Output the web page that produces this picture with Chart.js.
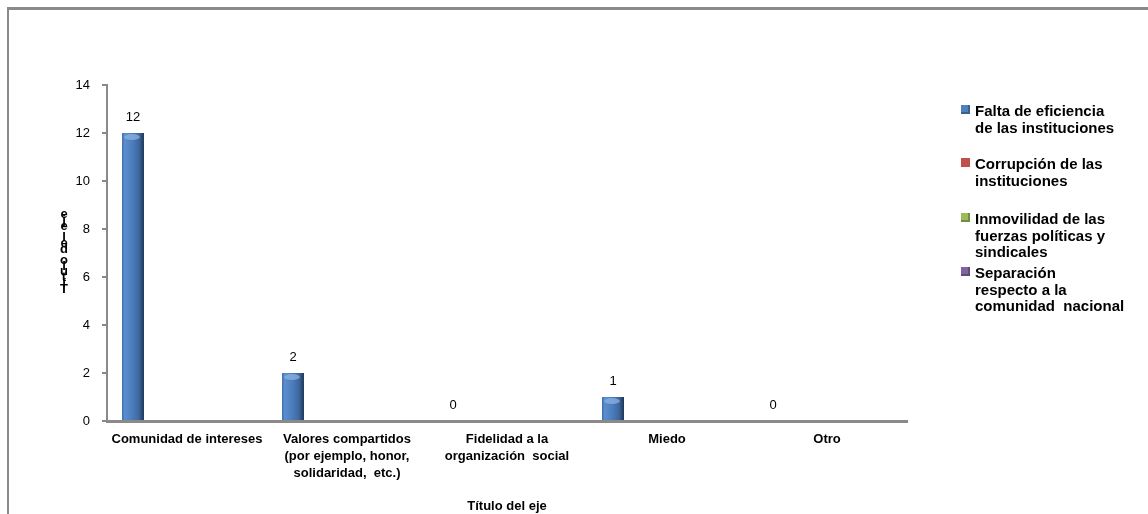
<!DOCTYPE html>
<html>
<head>
<meta charset="utf-8">
<script src="https://cdn.jsdelivr.net/npm/chart.js@4/dist/chart.umd.min.js"></script>
<style>
  html, body { margin: 0; padding: 0; background: #fff; }
  #wrap { position: relative; width: 1148px; height: 514px; overflow: hidden; background: #fff; }
  #c { position: absolute; left: 0; top: 0; }
  #frame { position: absolute; left: 7px; top: 7px; width: 1200px; height: 600px;
           border-top: 3px solid #8a8a8a; border-left: 2px solid #8a8a8a; pointer-events: none; }
  #legend { position: absolute; left: 0; top: 0; width: 1148px; height: 514px; pointer-events: none;
            font-family: "Liberation Sans", Arial, sans-serif; font-weight: bold; font-size: 15px; color: #000; }
  .item { position: absolute; left: 975px; line-height: 16.7px; white-space: nowrap; }
  .mk { position: absolute; left: 961px; width: 9px; height: 9px; }
</style>
</head>
<body>
<div id="wrap">
  <canvas id="c" width="1148" height="514"></canvas>
  <div id="frame"></div>
  <div id="legend"></div>
</div>
<script>
// ---- data ----
const categories = [
  ["Comunidad de intereses"],
  ["Valores compartidos", "(por ejemplo, honor,", "solidaridad,  etc.)"],
  ["Fidelidad a la", "organización  social"],
  ["Miedo"],
  ["Otro"]
];
const seriesNames = [
  ["Falta de eficiencia", "de las instituciones"],
  ["Corrupción de las", "instituciones"],
  ["Inmovilidad de las", "fuerzas políticas y", "sindicales"],
  ["Separación", "respecto a la", "comunidad  nacional"]
];
const faltaEficiencia = [12, 2, 0, 1, 0];
const corrupcion = [null, null, null, null, null];
const inmovilidad = [null, null, null, null, null];
const separacion = [null, null, null, null, null];
const yTicks = [0, 2, 4, 6, 8, 10, 12, 14];
const xAxisTitle = "Título del eje";
const yAxisTitle = "Título del eje";
const seriesColors = ["#4F81BD", "#C0504D", "#9BBB59", "#8064A2"];

const FONT = '"Liberation Sans", Arial, sans-serif';

function barFill(ctx) {
  const chart = ctx.chart;
  const base = seriesColors[ctx.datasetIndex];
  const meta = chart.getDatasetMeta(ctx.datasetIndex);
  const el = meta && meta.data ? meta.data[ctx.dataIndex] : null;
  if (!el || !isFinite(el.x) || !el.width) return base;
  const x0 = el.x - el.width / 2, x1 = el.x + el.width / 2;
  const g = chart.ctx.createLinearGradient(x0, 0, x1, 0);
  g.addColorStop(0, '#3f6ca6');
  g.addColorStop(0.12, '#5b8ecf');
  g.addColorStop(0.5, '#4a7bb9');
  g.addColorStop(0.78, '#3d669c');
  g.addColorStop(1, '#1d3656');
  return g;
}

const valueLabels = {
  id: 'valueLabels',
  afterDatasetsDraw(chart) {
    const ctx = chart.ctx;
    const meta = chart.getDatasetMeta(0);
    ctx.save();
    // cylinder-like cap highlight
    meta.data.forEach((el, i) => {
      const v = chart.data.datasets[0].data[i];
      if (v == null || v <= 0) return;
      ctx.fillStyle = 'rgba(140,178,225,0.75)';
      ctx.beginPath();
      ctx.ellipse(el.x - 1, el.y + 4, el.width * 0.36, 3, 0, 0, Math.PI * 2);
      ctx.fill();
    });
    ctx.font = '13px ' + FONT;
    ctx.fillStyle = '#000';
    ctx.textAlign = 'center';
    ctx.textBaseline = 'middle';
    meta.data.forEach((el, i) => {
      const v = chart.data.datasets[0].data[i];
      if (v == null) return;
      ctx.fillText(String(v), el.x, el.y - 15.5);
    });
    ctx.restore();
  },
  afterDraw(chart) {
    // stacked upright y-axis title (drawn bottom to top)
    const ctx = chart.ctx;
    ctx.save();
    ctx.font = 'bold 13px ' + FONT;
    ctx.fillStyle = '#000';
    ctx.textAlign = 'center';
    ctx.textBaseline = 'middle';
    const chars = Array.from(yAxisTitle);
    const bottom = 289, step = 5.7;
    chars.forEach((ch, i) => {
      if (ch === ' ') return;
      ctx.fillText(ch, 64, bottom - i * step);
    });
    ctx.restore();
  }
};

const datasets = [faltaEficiencia, corrupcion, inmovilidad, separacion].map((d, i) => ({
  label: seriesNames[i].join(' '),
  data: d,
  backgroundColor: i === 0 ? barFill : seriesColors[i],
  borderWidth: 0,
  categoryPercentage: 0.9,
  barPercentage: 0.61
}));

const chart = new Chart(document.getElementById('c'), {
  type: 'bar',
  data: { labels: categories, datasets },
  options: {
    responsive: false,
    animation: false,
    events: [],
    layout: { padding: { top: 85, left: 0, right: 241, bottom: 0 } },
    plugins: { legend: { display: false }, tooltip: { enabled: false } },
    scales: {
      x: {
        offset: true,
        grid: { display: false, drawTicks: false },
        border: { display: true, color: '#8a8a8a', width: 3 },
        ticks: {
          color: '#000', padding: 10, maxRotation: 0, autoSkip: false,
          font: { family: FONT, size: 13, weight: 'bold', lineHeight: 1.3 }
        },
        title: {
          display: true, text: xAxisTitle, color: '#000',
          font: { family: FONT, size: 13, weight: 'bold', lineHeight: 1.2 },
          padding: { top: 0, bottom: 0 }
        },
        afterFit(scale) { scale.height = 93; }
      },
      y: {
        min: 0, max: 14,
        afterBuildTicks(scale) { scale.ticks = yTicks.map(v => ({ value: v })); },
        grid: { drawOnChartArea: false, drawTicks: true, tickLength: 5, color: '#8a8a8a', lineWidth: 2 },
        border: { display: true, color: '#8a8a8a', width: 2 },
        ticks: { color: '#000', padding: 12, font: { family: FONT, size: 13 } },
        afterFit(scale) { scale.width = 107; }
      }
    }
  },
  plugins: [valueLabels]
});
chart.update('none');

// ---- legend ----
const legend = document.getElementById('legend');
const firstLineCenters = [111.7, 164.5, 219.3, 273.3];
chart.data.datasets.forEach((ds, i) => {
  const lines = seriesNames[i];
  const item = document.createElement('div');
  item.className = 'item';
  item.style.top = (firstLineCenters[i] - 8.35) + 'px';
  item.innerHTML = lines.map(l => l.replace(/ {2}/g, ' &nbsp;')).join('<br>');
  legend.appendChild(item);
  const mk = document.createElement('div');
  mk.className = 'mk';
  mk.style.top = (firstLineCenters[i] - 6.5) + 'px';
  mk.style.background = seriesColors[i];
  if (i !== 1) mk.style.boxShadow = 'inset -2px -2px 0 rgba(0,0,0,0.25)';
  legend.appendChild(mk);
});
</script>
</body>
</html>
